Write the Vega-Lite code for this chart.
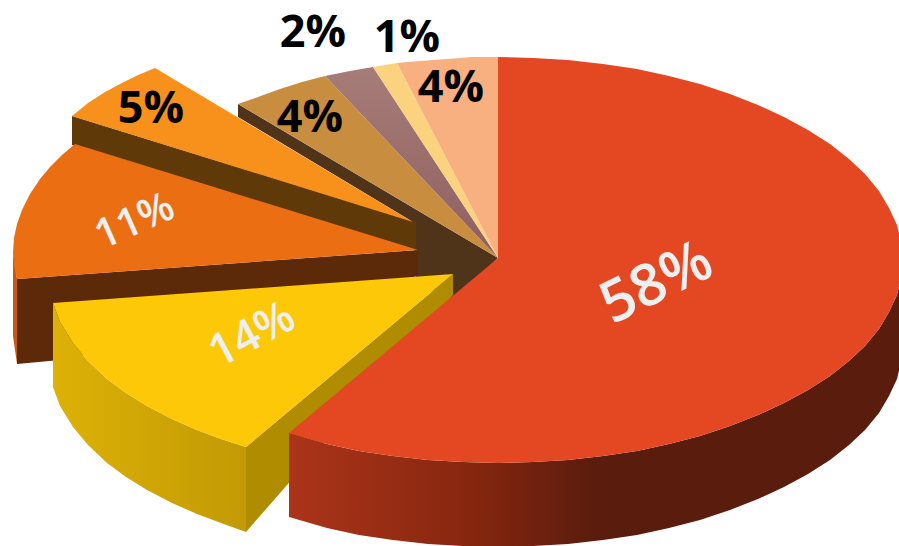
{"$schema":"https://vega.github.io/schema/vega-lite/v6.json","width":899,"height":546,"autosize":{"type":"none"},"padding":0,"background":"white","view":{"stroke":null},"config":{"view":{"stroke":null}},
"datasets":{"slices":[
{"p":"hub","i":1,"x":238,"y":104},{"p":"hub","i":2,"x":238,"y":117},{"p":"hub","i":3,"x":413,"y":222},{"p":"hub","i":4,"x":416,"y":285},{"p":"hub","i":5,"x":453,"y":300},{"p":"hub","i":6,"x":498,"y":258},
{"p":"tan","i":1,"x":238,"y":104},{"p":"tan","i":2,"x":258,"y":97},{"p":"tan","i":3,"x":280,"y":89},{"p":"tan","i":4,"x":302,"y":82},{"p":"tan","i":5,"x":325,"y":76},{"p":"tan","i":6,"x":498,"y":258},
{"p":"mauve","i":1,"x":325,"y":76},{"p":"mauve","i":2,"x":350,"y":71},{"p":"mauve","i":3,"x":373,"y":67},{"p":"mauve","i":4,"x":498,"y":258},
{"p":"cream","i":1,"x":373,"y":67},{"p":"cream","i":2,"x":385,"y":65},{"p":"cream","i":3,"x":397,"y":63},{"p":"cream","i":4,"x":498,"y":258},
{"p":"peach","i":1,"x":397,"y":63},{"p":"peach","i":2,"x":420,"y":61},{"p":"peach","i":3,"x":447,"y":59},{"p":"peach","i":4,"x":472,"y":57},{"p":"peach","i":5,"x":498,"y":57},{"p":"peach","i":6,"x":498,"y":258},
{"p":"wall5","i":1,"x":72,"y":116},{"p":"wall5","i":2,"x":72,"y":145},{"p":"wall5","i":3,"x":416,"y":250},{"p":"wall5","i":4,"x":416,"y":222},
{"p":"top5","i":1,"x":72,"y":116},{"p":"top5","i":2,"x":88,"y":103},{"p":"top5","i":3,"x":105,"y":92},{"p":"top5","i":4,"x":122,"y":83},{"p":"top5","i":5,"x":138,"y":75},{"p":"top5","i":6,"x":155,"y":68},{"p":"top5","i":7,"x":413,"y":222},
{"p":"wall11","i":1,"x":17,"y":279},{"p":"wall11","i":2,"x":17,"y":364},{"p":"wall11","i":3,"x":60,"y":360},{"p":"wall11","i":4,"x":418,"y":276},{"p":"wall11","i":5,"x":418,"y":250},
{"p":"sliver11","i":1,"x":13,"y":252},{"p":"sliver11","i":2,"x":13,"y":336},{"p":"sliver11","i":3,"x":17,"y":364},{"p":"sliver11","i":4,"x":17,"y":279},
{"p":"top11","i":1,"x":75,"y":144},{"p":"top11","i":2,"x":62,"y":155},{"p":"top11","i":3,"x":50,"y":167},{"p":"top11","i":4,"x":40,"y":179},{"p":"top11","i":5,"x":30,"y":194},{"p":"top11","i":6,"x":22,"y":210},{"p":"top11","i":7,"x":17,"y":224},{"p":"top11","i":8,"x":14,"y":238},{"p":"top11","i":9,"x":13,"y":252},{"p":"top11","i":10,"x":14,"y":266},{"p":"top11","i":11,"x":17,"y":279},{"p":"top11","i":12,"x":418,"y":250},
{"p":"inner14","i":1,"x":453,"y":274},{"p":"inner14","i":2,"x":453,"y":295},{"p":"inner14","i":3,"x":246,"y":532},{"p":"inner14","i":4,"x":246,"y":447},
{"p":"wall14","i":1,"x":53,"y":303},{"p":"wall14","i":2,"x":60,"y":322},{"p":"wall14","i":3,"x":73,"y":343},{"p":"wall14","i":4,"x":88,"y":361},{"p":"wall14","i":5,"x":107,"y":379},{"p":"wall14","i":6,"x":126,"y":393},{"p":"wall14","i":7,"x":147,"y":406},{"p":"wall14","i":8,"x":172,"y":419},{"p":"wall14","i":9,"x":197,"y":430},{"p":"wall14","i":10,"x":221,"y":439},{"p":"wall14","i":11,"x":246,"y":447},{"p":"wall14","i":12,"x":246,"y":532},{"p":"wall14","i":13,"x":221,"y":523},{"p":"wall14","i":14,"x":197,"y":514},{"p":"wall14","i":15,"x":172,"y":503},{"p":"wall14","i":16,"x":147,"y":490},{"p":"wall14","i":17,"x":126,"y":477},{"p":"wall14","i":18,"x":107,"y":463},{"p":"wall14","i":19,"x":88,"y":445},{"p":"wall14","i":20,"x":73,"y":427},{"p":"wall14","i":21,"x":60,"y":406},{"p":"wall14","i":22,"x":53,"y":387},
{"p":"top14","i":1,"x":53,"y":303},{"p":"top14","i":2,"x":453,"y":274},{"p":"top14","i":3,"x":246,"y":447},{"p":"top14","i":4,"x":221,"y":439},{"p":"top14","i":5,"x":197,"y":430},{"p":"top14","i":6,"x":172,"y":419},{"p":"top14","i":7,"x":147,"y":406},{"p":"top14","i":8,"x":126,"y":393},{"p":"top14","i":9,"x":107,"y":379},{"p":"top14","i":10,"x":88,"y":361},{"p":"top14","i":11,"x":73,"y":343},{"p":"top14","i":12,"x":60,"y":322},
{"p":"wall58","i":1,"x":903,"y":260},{"p":"wall58","i":2,"x":901,"y":278},{"p":"wall58","i":3,"x":897,"y":295},{"p":"wall58","i":4,"x":889,"y":312},{"p":"wall58","i":5,"x":879,"y":329},{"p":"wall58","i":6,"x":865,"y":346},{"p":"wall58","i":7,"x":849,"y":361},{"p":"wall58","i":8,"x":830,"y":376},{"p":"wall58","i":9,"x":808,"y":390},{"p":"wall58","i":10,"x":784,"y":403},{"p":"wall58","i":11,"x":758,"y":415},{"p":"wall58","i":12,"x":730,"y":426},{"p":"wall58","i":13,"x":700,"y":436},{"p":"wall58","i":14,"x":669,"y":444},{"p":"wall58","i":15,"x":637,"y":451},{"p":"wall58","i":16,"x":603,"y":456},{"p":"wall58","i":17,"x":568,"y":460},{"p":"wall58","i":18,"x":533,"y":462},{"p":"wall58","i":19,"x":498,"y":463},{"p":"wall58","i":20,"x":463,"y":462},{"p":"wall58","i":21,"x":428,"y":460},{"p":"wall58","i":22,"x":393,"y":456},{"p":"wall58","i":23,"x":359,"y":451},{"p":"wall58","i":24,"x":327,"y":444},{"p":"wall58","i":25,"x":289,"y":433},{"p":"wall58","i":26,"x":289,"y":517},{"p":"wall58","i":27,"x":327,"y":528},{"p":"wall58","i":28,"x":359,"y":535},{"p":"wall58","i":29,"x":393,"y":540},{"p":"wall58","i":30,"x":428,"y":544},{"p":"wall58","i":31,"x":463,"y":546},{"p":"wall58","i":32,"x":498,"y":547},{"p":"wall58","i":33,"x":533,"y":546},{"p":"wall58","i":34,"x":568,"y":544},{"p":"wall58","i":35,"x":603,"y":540},{"p":"wall58","i":36,"x":637,"y":535},{"p":"wall58","i":37,"x":669,"y":528},{"p":"wall58","i":38,"x":700,"y":520},{"p":"wall58","i":39,"x":730,"y":510},{"p":"wall58","i":40,"x":758,"y":499},{"p":"wall58","i":41,"x":784,"y":487},{"p":"wall58","i":42,"x":808,"y":474},{"p":"wall58","i":43,"x":830,"y":460},{"p":"wall58","i":44,"x":849,"y":445},{"p":"wall58","i":45,"x":865,"y":430},{"p":"wall58","i":46,"x":879,"y":413},{"p":"wall58","i":47,"x":889,"y":396},{"p":"wall58","i":48,"x":897,"y":379},{"p":"wall58","i":49,"x":901,"y":362},{"p":"wall58","i":50,"x":903,"y":344},
{"p":"top58","i":1,"x":498,"y":57},{"p":"top58","i":2,"x":533,"y":58},{"p":"top58","i":3,"x":568,"y":60},{"p":"top58","i":4,"x":603,"y":64},{"p":"top58","i":5,"x":637,"y":69},{"p":"top58","i":6,"x":669,"y":76},{"p":"top58","i":7,"x":700,"y":84},{"p":"top58","i":8,"x":730,"y":94},{"p":"top58","i":9,"x":758,"y":105},{"p":"top58","i":10,"x":784,"y":117},{"p":"top58","i":11,"x":808,"y":130},{"p":"top58","i":12,"x":830,"y":144},{"p":"top58","i":13,"x":849,"y":159},{"p":"top58","i":14,"x":865,"y":174},{"p":"top58","i":15,"x":879,"y":191},{"p":"top58","i":16,"x":889,"y":208},{"p":"top58","i":17,"x":897,"y":225},{"p":"top58","i":18,"x":901,"y":242},{"p":"top58","i":19,"x":903,"y":260},{"p":"top58","i":20,"x":901,"y":278},{"p":"top58","i":21,"x":897,"y":295},{"p":"top58","i":22,"x":889,"y":312},{"p":"top58","i":23,"x":879,"y":329},{"p":"top58","i":24,"x":865,"y":346},{"p":"top58","i":25,"x":849,"y":361},{"p":"top58","i":26,"x":830,"y":376},{"p":"top58","i":27,"x":808,"y":390},{"p":"top58","i":28,"x":784,"y":403},{"p":"top58","i":29,"x":758,"y":415},{"p":"top58","i":30,"x":730,"y":426},{"p":"top58","i":31,"x":700,"y":436},{"p":"top58","i":32,"x":669,"y":444},{"p":"top58","i":33,"x":637,"y":451},{"p":"top58","i":34,"x":603,"y":456},{"p":"top58","i":35,"x":568,"y":460},{"p":"top58","i":36,"x":533,"y":462},{"p":"top58","i":37,"x":498,"y":463},{"p":"top58","i":38,"x":463,"y":462},{"p":"top58","i":39,"x":428,"y":460},{"p":"top58","i":40,"x":393,"y":456},{"p":"top58","i":41,"x":359,"y":451},{"p":"top58","i":42,"x":327,"y":444},{"p":"top58","i":43,"x":289,"y":433},{"p":"top58","i":44,"x":498,"y":258}
]},
"encoding":{
"x":{"field":"x","type":"quantitative","scale":{"domain":[0,899]},"axis":null},
"y":{"field":"y","type":"quantitative","scale":{"domain":[546,0]},"axis":null}
},
"layer":[
{"data":{"name":"slices"},"transform":[{"filter":{"field":"p","oneOf":["hub","tan"]}}],"mark":{"type":"line","filled":true,"strokeWidth":0},"encoding":{"order":{"field":"i","type":"quantitative"},"color":{"field":"p","type":"nominal","legend":null,"scale":{"domain":["hub","tan","cream","peach","wall5","top5","wall11","sliver11","top11","inner14"],"range":["#4f3419","#c98d3f","#fbd27d","#f8b081","#603909","#f7911c","#5c2a09","#c45a10","#eb6e13","#b08c00"]}}}},
{"data":{"name":"slices"},"transform":[{"filter":{"field":"p","equal":"mauve"}}],"mark":{"type":"line","filled":true,"strokeWidth":0,"fill":{"gradient":"linear","x1":0,"y1":0,"x2":0,"y2":1,"stops":[{"offset":0,"color":"#a67c78"},{"offset":1,"color":"#8f5f5f"}]}},"encoding":{"order":{"field":"i","type":"quantitative"}}},
{"data":{"name":"slices"},"transform":[{"filter":{"field":"p","oneOf":["cream","peach","wall5","top5","wall11","sliver11","top11","inner14"]}}],"mark":{"type":"line","filled":true,"strokeWidth":0},"encoding":{"order":{"field":"i","type":"quantitative"},"color":{"field":"p","type":"nominal","legend":null}}},
{"data":{"name":"slices"},"transform":[{"filter":{"field":"p","equal":"wall14"}}],"mark":{"type":"line","filled":true,"strokeWidth":0,"fill":{"gradient":"linear","x1":0,"y1":0,"x2":1,"y2":0,"stops":[{"offset":0,"color":"#ddb106"},{"offset":1,"color":"#c29a04"}]}},"encoding":{"order":{"field":"i","type":"quantitative"}}},
{"data":{"name":"slices"},"transform":[{"filter":{"field":"p","equal":"top14"}}],"mark":{"type":"line","filled":true,"strokeWidth":0,"fill":"#fdc807"},"encoding":{"order":{"field":"i","type":"quantitative"}}},
{"data":{"name":"slices"},"transform":[{"filter":{"field":"p","equal":"wall58"}}],"mark":{"type":"line","filled":true,"strokeWidth":0,"fill":{"gradient":"linear","x1":0,"y1":0,"x2":1,"y2":0,"stops":[{"offset":0,"color":"#ab3419"},{"offset":0.3,"color":"#86260f"},{"offset":0.5,"color":"#5a1c0d"},{"offset":1,"color":"#5a1c0d"}]}},"encoding":{"order":{"field":"i","type":"quantitative"}}},
{"data":{"name":"slices"},"transform":[{"filter":{"field":"p","equal":"top58"}}],"mark":{"type":"line","filled":true,"strokeWidth":0,"fill":"#e34822"},"encoding":{"order":{"field":"i","type":"quantitative"}}},
{"data":{"values":[{"t":"5%","x":151,"y":123},{"t":"4%","x":310,"y":132},{"t":"2%","x":313,"y":47},{"t":"1%","x":407,"y":52},{"t":"4%","x":451,"y":102}]},
"mark":{"type":"text","font":"Open Sans","fontWeight":"bold","fontSize":45,"color":"black","align":"center","baseline":"alphabetic"},
"encoding":{"text":{"field":"t"}}},
{"data":{"values":[{"t":"58%","x":657,"y":284}]},
"mark":{"type":"text","font":"Open Sans","fontWeight":600,"fontSize":58,"color":"#efefef","align":"center","baseline":"middle","angle":334},
"encoding":{"text":{"field":"t"}}},
{"data":{"values":[{"t":"14%","x":252,"y":335}]},
"mark":{"type":"text","font":"Open Sans","fontWeight":600,"fontSize":45,"color":"#efefef","align":"center","baseline":"middle","angle":332},
"encoding":{"text":{"field":"t"}}},
{"data":{"values":[{"t":"11%","x":135,"y":222}]},
"mark":{"type":"text","font":"Open Sans","fontWeight":600,"fontSize":41,"color":"#efefef","align":"center","baseline":"middle","angle":336},
"encoding":{"text":{"field":"t"}}}
]}
